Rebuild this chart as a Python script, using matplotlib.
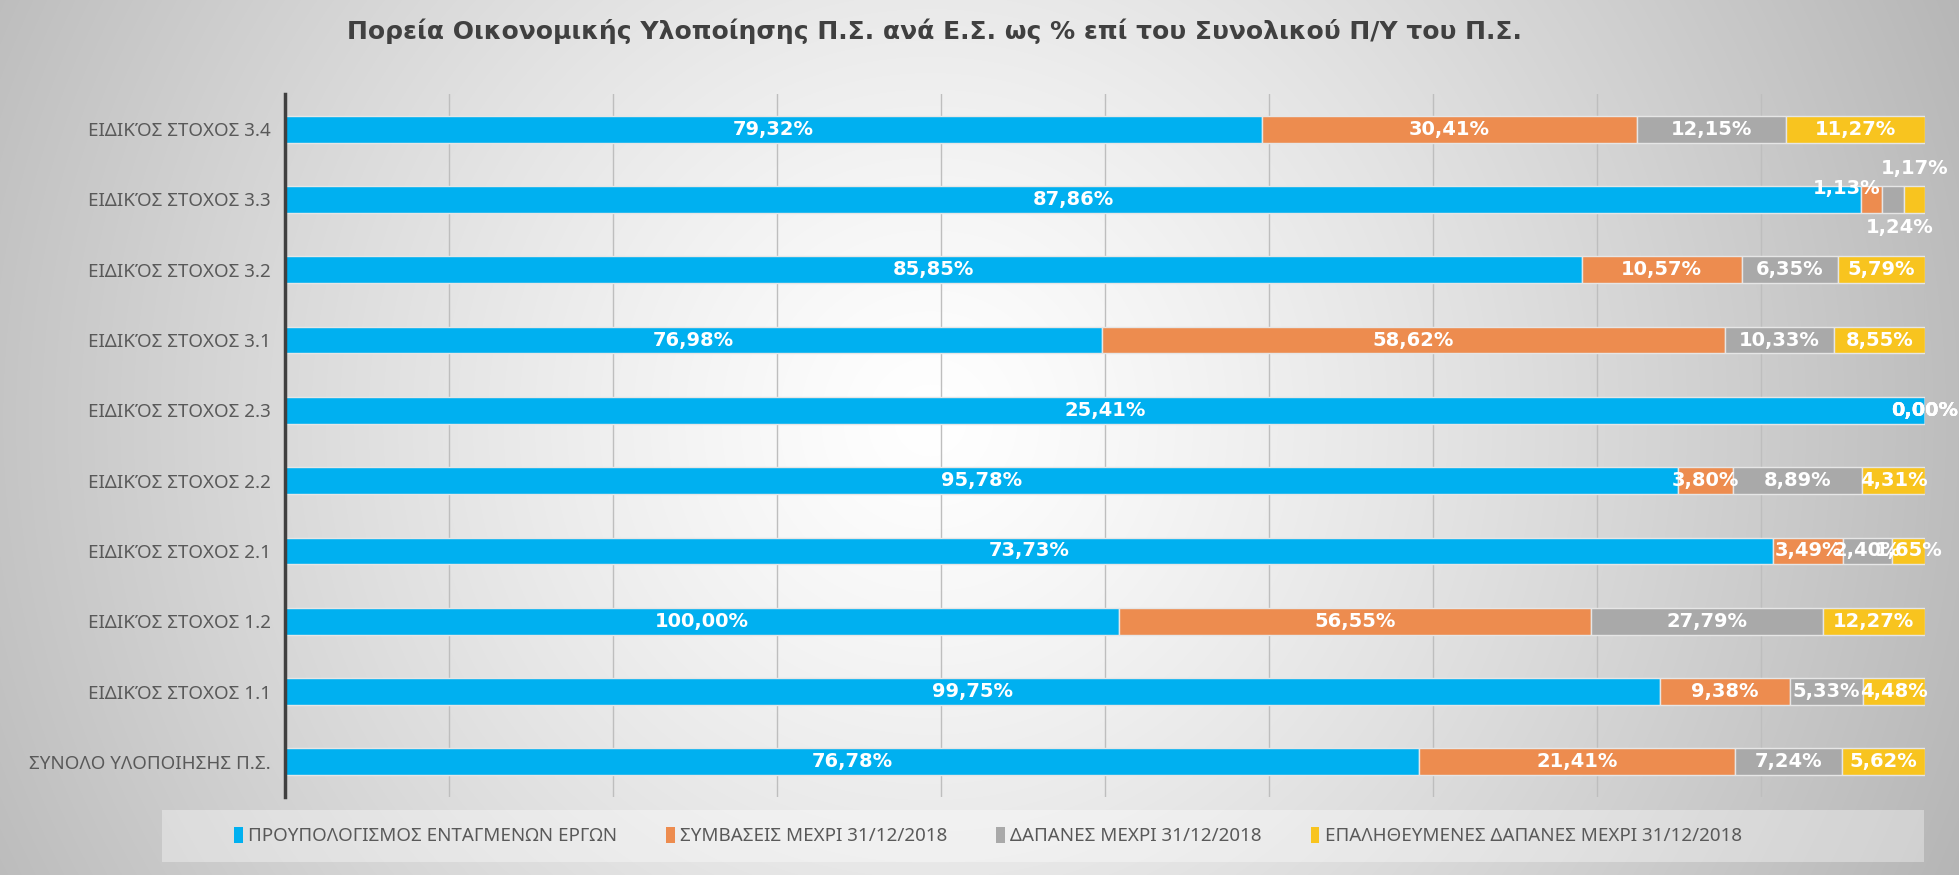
import numpy as np
import matplotlib
matplotlib.use("Agg")
import matplotlib.pyplot as plt
from matplotlib.patches import Patch, Rectangle

plt.rcParams['font.family'] = ['Noto Sans', 'DejaVu Sans']
BOLD = ['DejaVu Sans']

title = "Πορεία Οικονομικής Υλοποίησης Π.Σ. ανά Ε.Σ. ως % επί του Συνολικού Π/Υ του Π.Σ."
categories = ["ΣΥΝΟΛΟ ΥΛΟΠΟΙΗΣΗΣ Π.Σ.", "ΕΙΔΙΚΌΣ ΣΤΟΧΟΣ 1.1", "ΕΙΔΙΚΌΣ ΣΤΟΧΟΣ 1.2",
              "ΕΙΔΙΚΌΣ ΣΤΟΧΟΣ 2.1", "ΕΙΔΙΚΌΣ ΣΤΟΧΟΣ 2.2", "ΕΙΔΙΚΌΣ ΣΤΟΧΟΣ 2.3",
              "ΕΙΔΙΚΌΣ ΣΤΟΧΟΣ 3.1", "ΕΙΔΙΚΌΣ ΣΤΟΧΟΣ 3.2", "ΕΙΔΙΚΌΣ ΣΤΟΧΟΣ 3.3",
              "ΕΙΔΙΚΌΣ ΣΤΟΧΟΣ 3.4"]
budget = [76.78, 99.75, 100.00, 73.73, 95.78, 25.41, 76.98, 85.85, 87.86, 79.32]
contracts = [21.41, 9.38, 56.55, 3.49, 3.80, 0.00, 58.62, 10.57, 1.13, 30.41]
spending = [7.24, 5.33, 27.79, 2.40, 8.89, 0.00, 10.33, 6.35, 1.24, 12.15]
verified = [5.62, 4.48, 12.27, 1.65, 4.31, 0.00, 8.55, 5.79, 1.17, 11.27]
series_names = ["ΠΡΟΥΠΟΛΟΓΙΣΜΟΣ ΕΝΤΑΓΜΕΝΩΝ ΕΡΓΩΝ", "ΣΥΜΒΑΣΕΙΣ ΜΕΧΡΙ 31/12/2018",
                "ΔΑΠΑΝΕΣ ΜΕΧΡΙ 31/12/2018", "ΕΠΑΛΗΘΕΥΜΕΝΕΣ ΔΑΠΑΝΕΣ ΜΕΧΡΙ 31/12/2018"]
colors = ["#00B0F0", "#ED8C4F", "#A9A9A9", "#F8C41F"]

W, H = 1959, 875
fig = plt.figure(figsize=(W / 100, H / 100), dpi=100)

# background radial gradient
bg = fig.add_axes([0, 0, 1, 1], zorder=-10)
yy, xx = np.mgrid[0:H, 0:W]
r = np.sqrt((xx - 930) ** 2 + (yy - 420) ** 2) / 1000.0
val = np.clip(1.0 - 0.25 * r ** 1.25, 0, 1)
img = np.dstack([val, val, val])
bg.imshow(img, extent=[0, 1, 0, 1], aspect='auto', origin='upper')
bg.axis('off')

ax = fig.add_axes([285 / W, 1 - 797 / H, (1925 - 285) / W, (797 - 94) / H])
ax.set_facecolor('none')

data = np.array([budget, contracts, spending, verified], dtype=float)
totals = data.sum(axis=0)
frac = data / totals
y = np.arange(len(categories))
left = np.zeros(len(categories))
bar_h = 0.38
for i in range(4):
    ax.barh(y, frac[i], left=left, height=bar_h, color=colors[i],
            edgecolor='#E6E6E6', linewidth=1.0, zorder=3, label=series_names[i])
    for j in range(len(categories)):
        v = data[i, j]
        cx = left[j] + frac[i, j] / 2
        txt = f"{v:.2f}%".replace('.', ',')
        dx, dy, ha = 0, 0, 'center'
        if 0 < frac[i, j] < 0.015:
            if i == 1:
                dx, dy, ha = 6, 8, 'right'
            elif i == 2:
                dx, dy = 5, -20
            elif i == 3:
                dx, dy = 0, 22
        ax.annotate(txt, (cx, y[j]), xytext=(dx, dy), textcoords='offset points',
                    ha=ha, va='center', color='white', fontsize=14,
                    fontweight='bold', family=BOLD, zorder=5)
    left = left + frac[i]

ax.set_xlim(0, 1)
ax.set_ylim(-0.5, len(categories) - 0.5)
ax.set_yticks(y)
ax.set_yticklabels(categories, fontsize=13.5, color='#595959')
ax.tick_params(axis='y', length=0, pad=10)
ax.set_xticks(np.linspace(0, 1, 11))
ax.tick_params(axis='x', length=0, labelbottom=False)
ax.grid(axis='x', color='#BEBEBE', linewidth=1.0, zorder=0)
for s in ['top', 'right', 'bottom']:
    ax.spines[s].set_visible(False)
ax.spines['left'].set_color('#404040')
ax.spines['left'].set_linewidth(2.5)
ax.spines['left'].set_zorder(6)

fig.text(934 / W, 1 - 31 / H, title, ha='center', va='center', fontsize=18,
         fontweight='bold', family=BOLD, color='#404040')

# legend box
fig.patches.append(Rectangle((162 / W, 1 - 862 / H), (1924 - 162) / W, 52 / H,
                             transform=fig.transFigure, facecolor='white',
                             alpha=0.35, edgecolor='none', zorder=1))
handles = [Patch(facecolor=c, edgecolor='none') for c in colors]
fig.legend(handles, series_names, loc='center', bbox_to_anchor=(988 / W, 1 - 836 / H),
           ncol=4, frameon=False, fontsize=13.5, labelcolor='#595959',
           handlelength=0.45, handleheight=1.0, handletextpad=0.3, columnspacing=2.6)

fig.savefig('out.png', dpi=100)
